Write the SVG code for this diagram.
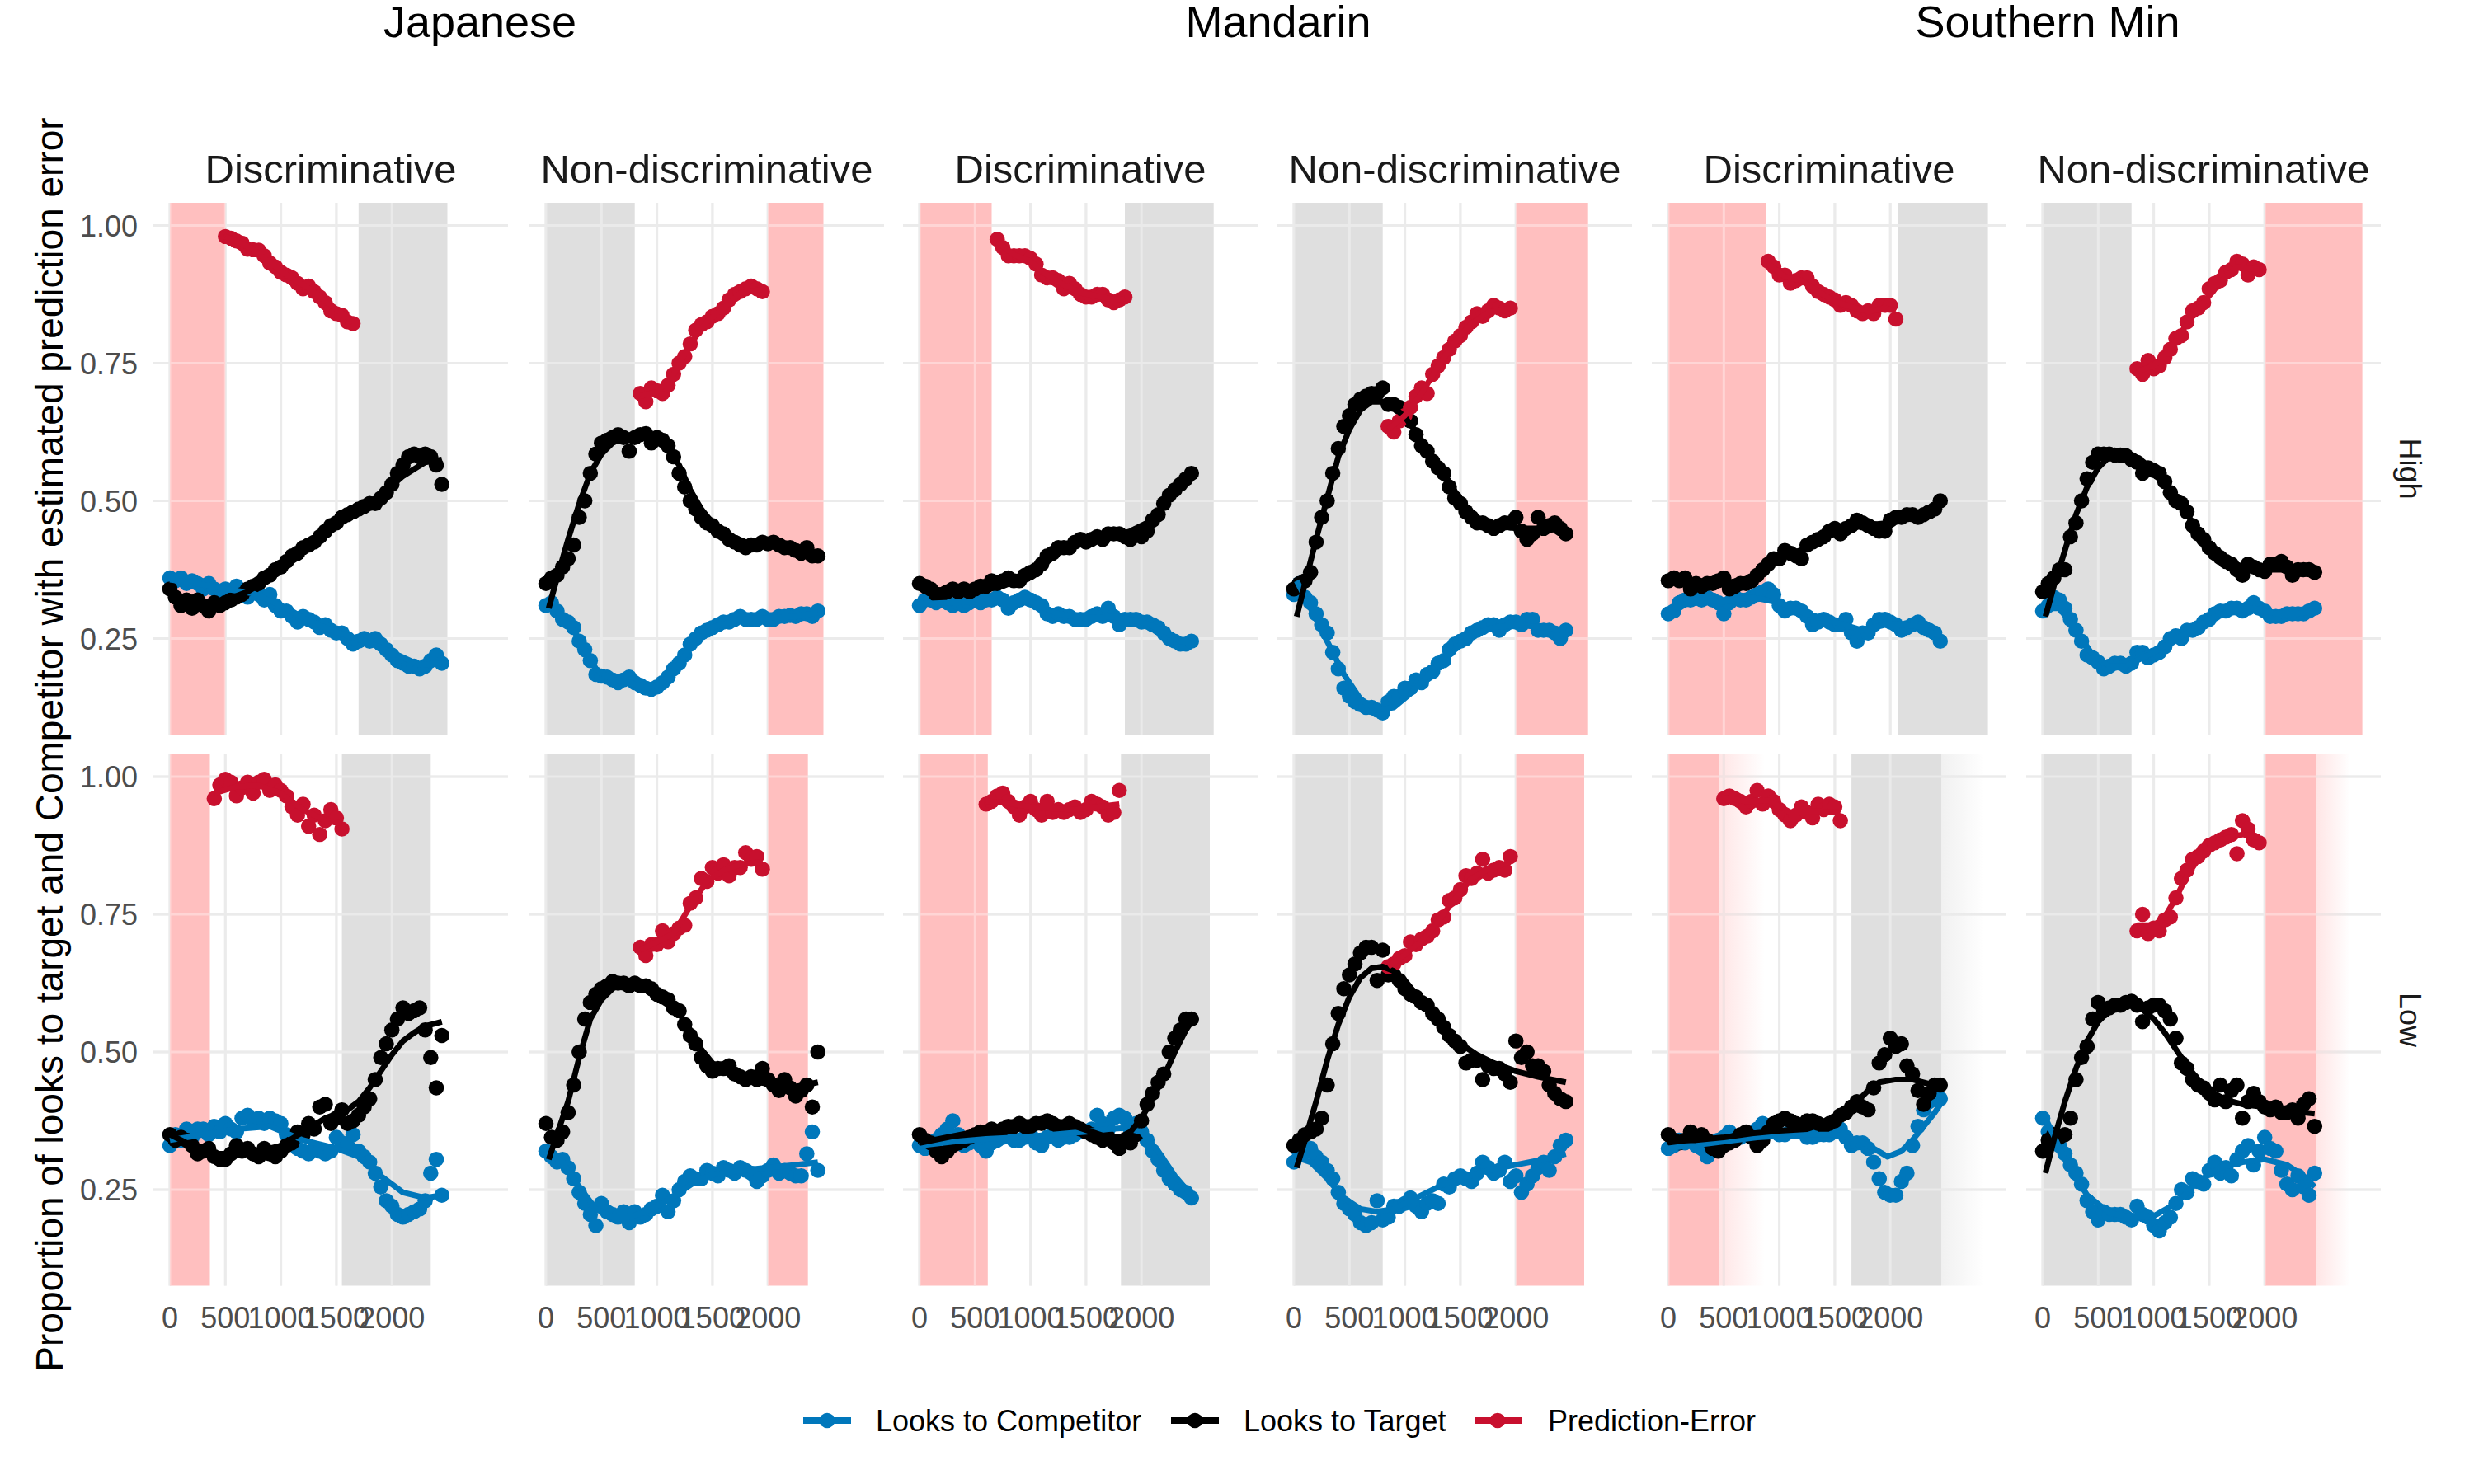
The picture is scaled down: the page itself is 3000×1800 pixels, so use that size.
<svg xmlns="http://www.w3.org/2000/svg" xmlns:xlink="http://www.w3.org/1999/xlink" width="3000" height="1800" viewBox="0 0 3000 1800">
<style>
text{font-family:"Liberation Sans",Arial,sans-serif}
.lang{font-size:54px;fill:#000;text-anchor:middle}
.strip{font-size:49px;fill:#1a1a1a;text-anchor:middle}
.ytk{font-size:36px;fill:#4d4d4d;text-anchor:end}
.xtk{font-size:36px;fill:#4d4d4d;text-anchor:middle}
.ttl{font-size:46px;fill:#000;text-anchor:middle}
.row{font-size:36px;fill:#1a1a1a;text-anchor:middle}
.leg{font-size:36px;fill:#000}
.gb{stroke:#e0e0e0;stroke-width:3;fill:none}
.gt{stroke:#fff;stroke-opacity:.35;stroke-width:3;fill:none}
.pk{fill:#ffbfbf}
.gy{fill:#dfdfdf}
.pB{fill:none;stroke:none;marker-start:url(#mB);marker-mid:url(#mB);marker-end:url(#mB)}
.pK{fill:none;stroke:none;marker-start:url(#mK);marker-mid:url(#mK);marker-end:url(#mK)}
.pR{fill:none;stroke:none;marker-start:url(#mR);marker-mid:url(#mR);marker-end:url(#mR)}
.ln{fill:none;stroke-width:7px;vector-effect:non-scaling-stroke;stroke-linejoin:round}
.lB{stroke:#0077bb}.lK{stroke:#000}.lR{stroke:#c8102e}
</style>
<defs>
<marker id="mB" markerUnits="userSpaceOnUse" markerWidth="3" markerHeight="3" viewBox="-1.5 -1.5 3 3" refX="0" refY="0" overflow="visible"><circle r="1.38" fill="#0077bb"/></marker>
<marker id="mK" markerUnits="userSpaceOnUse" markerWidth="3" markerHeight="3" viewBox="-1.5 -1.5 3 3" refX="0" refY="0" overflow="visible"><circle r="1.38" fill="#000"/></marker>
<marker id="mR" markerUnits="userSpaceOnUse" markerWidth="3" markerHeight="3" viewBox="-1.5 -1.5 3 3" refX="0" refY="0" overflow="visible"><circle r="1.38" fill="#c8102e"/></marker>
<path id="grid" d="M-20 0H410M-20 167H410M-20 334H410M-20 501H410M0 -27.5V617.5M67.3 -27.5V617.5M134.6 -27.5V617.5M201.9 -27.5V617.5M269.2 -27.5V617.5"/>
<linearGradient id="fadePk"><stop offset="0" stop-color="#ffbfbf" stop-opacity=".4"/><stop offset="1" stop-color="#ffbfbf" stop-opacity="0"/></linearGradient>
<linearGradient id="fadeGy"><stop offset="0" stop-color="#dfdfdf" stop-opacity=".45"/><stop offset="1" stop-color="#dfdfdf" stop-opacity="0"/></linearGradient>
</defs>
<rect width="3000" height="1800" fill="#fff"/>

<g id="titles">
<text class="lang" x="582" y="45">Japanese</text>
<text class="lang" x="1550" y="45">Mandarin</text>
<text class="lang" x="2483" y="45">Southern Min</text>
<text class="strip" x="401" y="222">Discriminative</text>
<text class="strip" x="857" y="222">Non-discriminative</text>
<text class="strip" x="1310" y="222">Discriminative</text>
<text class="strip" x="1764" y="222">Non-discriminative</text>
<text class="strip" x="2218" y="222">Discriminative</text>
<text class="strip" x="2672" y="222">Non-discriminative</text>
<text class="row" transform="translate(2923,568.5) rotate(90)" x="0" y="13">High</text>
<text class="row" transform="translate(2923,1237) rotate(90)" x="0" y="13">Low</text>
<text class="ttl" transform="translate(76,903) rotate(-90)" x="0" y="0">Proportion of looks to target and Competitor with estimated prediction error</text>
</g>

<g id="y-axis">
<text class="ytk" x="167" y="286.5">1.00</text><text class="ytk" x="167" y="453.5">0.75</text><text class="ytk" x="167" y="620.5">0.50</text><text class="ytk" x="167" y="787.5">0.25</text>
<text class="ytk" x="167" y="955">1.00</text><text class="ytk" x="167" y="1122">0.75</text><text class="ytk" x="167" y="1289">0.50</text><text class="ytk" x="167" y="1456">0.25</text>
</g>

<g id="x-axis">
<g transform="translate(206,1611)"><text class="xtk" x="0">0</text><text class="xtk" x="67.3">500</text><text class="xtk" x="134.6">1000</text><text class="xtk" x="201.9">1500</text><text class="xtk" x="269.2">2000</text></g>
<g transform="translate(662,1611)"><text class="xtk" x="0">0</text><text class="xtk" x="67.3">500</text><text class="xtk" x="134.6">1000</text><text class="xtk" x="201.9">1500</text><text class="xtk" x="269.2">2000</text></g>
<g transform="translate(1115,1611)"><text class="xtk" x="0">0</text><text class="xtk" x="67.3">500</text><text class="xtk" x="134.6">1000</text><text class="xtk" x="201.9">1500</text><text class="xtk" x="269.2">2000</text></g>
<g transform="translate(1569,1611)"><text class="xtk" x="0">0</text><text class="xtk" x="67.3">500</text><text class="xtk" x="134.6">1000</text><text class="xtk" x="201.9">1500</text><text class="xtk" x="269.2">2000</text></g>
<g transform="translate(2023,1611)"><text class="xtk" x="0">0</text><text class="xtk" x="67.3">500</text><text class="xtk" x="134.6">1000</text><text class="xtk" x="201.9">1500</text><text class="xtk" x="269.2">2000</text></g>
<g transform="translate(2477,1611)"><text class="xtk" x="0">0</text><text class="xtk" x="67.3">500</text><text class="xtk" x="134.6">1000</text><text class="xtk" x="201.9">1500</text><text class="xtk" x="269.2">2000</text></g>
</g>

<!-- Japanese Discriminative High -->
<g id="jp-disc-high" transform="translate(206,273.5)">
<use xlink:href="#grid" class="gb"/>
<rect class="pk" x="0" y="-27.5" width="67.3" height="645"/>
<rect class="gy" x="228.8" y="-27.5" width="107.7" height="645"/>
<use xlink:href="#grid" class="gt"/>
<g transform="scale(6.73,6.68)">
<polyline class="pB" points="0,64 1,64.5 2,64 3,65 4,64.5 5,65 6,66 7,65 8,66 9,67 10,66 11,67 12,65.5 13,67 14,67.5 15,66.5 16,67 17,68 18,67 19,69 20,70 21,70 22,71 23,72 24,71 25,71.5 26,72 27,73 28,72.5 29,73.5 30,74 31,74 32,75 33,76 34,75.5 35,75 36,75.5 37,75 38,76 39,77 40,78 41,79 42,79.5 43,80 44,80 45,80.5 46,80 47,79 48,78 49,79.5"/>
<polyline class="pK" points="0,66 1,67.5 2,69 3,68 4,69.5 5,68 6,69 7,70 8,68.5 9,69 10,68.5 11,68 12,67.5 13,67 14,66 15,65.5 16,65 17,64 18,63.5 19,62.5 20,62 21,61 22,60 23,59.5 24,58.5 25,58 26,57.5 27,56.5 28,55.5 29,54.5 30,54 31,53 32,52.5 33,52 34,51.5 35,51 36,50.5 37,50.5 38,49.5 39,48.5 40,47 41,45 42,43.5 43,42 44,41.5 45,42 46,41.5 47,42 48,43.5 49,47"/>
<polyline class="pR" points="10,2 11,2.3 12,2.8 13,3.2 14,4.3 15,4.4 16,4.5 17,5.5 18,6.8 19,7.5 20,8.5 21,9 22,9.5 23,10.5 24,11.5 25,11 26,12 27,13 28,14 29,15.5 30,16 31,16.3 32,17.5 33,17.8"/>
<polyline class="ln lB" points="0,64.3 5,65 10,66 15,66.8 20,69 25,71.8 30,73.8 35,75.4 40,77.5 45,79.8 49,79.5"/>
<polyline class="ln lK" points="0,66.5 3,68 6,68.5 10,68 14,66.5 18,64 22,60.5 26,57.5 30,54 34,51.5 38,49 42,45.5 46,43 49,42.5"/>
<polyline class="ln lR" points="10,2 15,4.3 20,8.3 25,11.4 30,15.2 33,17.5"/>
</g>
</g>

<!-- Japanese Discriminative Low -->
<g id="jp-disc-low" transform="translate(206,942)">
<use xlink:href="#grid" class="gb"/>
<rect class="pk" x="0" y="-27.5" width="48.5" height="645"/>
<rect class="gy" x="208.6" y="-27.5" width="107.7" height="645"/>
<use xlink:href="#grid" class="gt"/>
<g transform="scale(6.73,6.68)">
<polyline class="pB" points="0,67 1,65 2,66 3,64 4,65.5 5,64 6,64 7,65 8,63.5 9,64.5 10,63 11,64 12,64.5 13,62 14,61.5 15,62.5 16,62 17,63 18,62 19,62.5 20,63 21,65 22,66 23,67.5 24,68 25,68.5 26,67.5 27,68 28,68.5 29,68 30,65.5 31,66.5 32,67 33,65 34,68 35,69 36,70 37,72 38,74.5 39,77 40,78 41,79.5 42,80 43,79.5 44,79 45,78.5 46,77 47,72 48,69.5 49,76"/>
<polyline class="pK" points="0,65 1,66 2,65.5 3,66 4,67 5,68.5 6,68 7,67.5 8,69 9,69.5 10,69.5 11,68.5 12,67 13,68 14,67.5 15,68.5 16,69 17,67.5 18,68.5 19,69 20,68 21,67 22,66.5 23,64.5 24,65 25,63 26,64 27,60 28,59.5 29,63 30,62 31,60.5 32,63 33,62.5 34,61.5 35,60 36,58.5 37,55 38,51 39,48.5 40,46 41,44 42,42 43,43 44,42.5 45,42 46,46 47,51 48,56.5 49,47"/>
<polyline class="pR" points="8,4 9,1.5 10,0.5 11,1 12,3.5 13,2 14,1 15,3 16,1 17,0.5 18,2.5 19,1.5 20,2.5 21,3.5 22,5.5 23,7 24,5 25,9 26,7 27,10.5 28,8 29,6 30,7.5 31,9.5"/>
<polyline class="ln lB" points="0,66 6,65 12,64 18,63.5 24,66 30,67.5 34,69 38,72.5 42,75.5 46,76.5 49,76"/>
<polyline class="ln lK" points="0,65 4,67 8,68.5 12,68.5 16,68 20,67 24,64.5 28,62 32,60.5 34,59 36,56.5 38,53.5 40,50.5 42,48 44,46.5 46,45.3 49,44.5"/>
<polyline class="ln lR" points="8,3 12,1.8 16,1.6 20,3 24,6 28,8 31,8.5"/>
</g>
</g>

<!-- Japanese Non-discriminative High -->
<g id="jp-nondisc-high" transform="translate(662,273.5)">
<use xlink:href="#grid" class="gb"/>
<rect class="gy" x="0" y="-27.5" width="107.7" height="645"/>
<rect class="pk" x="269.2" y="-27.5" width="67.3" height="645"/>
<use xlink:href="#grid" class="gt"/>
<g transform="scale(6.73,6.68)">
<polyline class="pB" points="0,69 1,68.5 2,70 3,71.5 4,72 5,73 6,75.5 7,77 8,79 9,81.5 10,81.8 11,82 12,82.5 13,83 14,82.5 15,82 16,83 17,83.5 18,84 19,84.2 20,83.8 21,83 22,82 23,80.5 24,79.5 25,78 26,76 27,75 28,74 29,73.5 30,73 31,72.5 32,72 33,72 34,71.5 35,71 36,71.5 37,71.5 38,71.5 39,71 40,71.5 41,71.5 42,71 43,71 44,70.8 45,71 46,70.5 47,70.5 48,71 49,70"/>
<polyline class="pK" points="0,65 1,64 2,63.5 3,62 4,60.5 5,58 6,53 7,50 8,45 9,41.5 10,39.5 11,39 12,38.5 13,38 14,38.5 15,41 16,38.5 17,38 18,37.8 19,39.5 20,38.5 21,39 22,40 23,42 24,45 25,47.5 26,50 27,51.5 28,53 29,54 30,54.5 31,55.5 32,56 33,57 34,57.5 35,58 36,58.5 37,58 38,58 39,57.5 40,57.8 41,57.5 42,58 43,58.5 44,58.5 45,59 46,59.5 47,58.5 48,60 49,60"/>
<polyline class="pR" points="17,30.5 18,32 19,29.5 20,30 21,30.5 22,29 23,27 24,25 25,23.8 26,21.5 27,19 28,18 29,17.5 30,16.5 31,16 32,15 33,13.5 34,12.5 35,12 36,11.5 37,11 38,11.5 39,12"/>
<polyline class="ln lB" points="0,68.5 3,71 6,75 9,80.5 12,82.5 15,83 18,84 21,83 24,79.5 27,75.5 30,73 35,71.5 40,71.3 45,71 49,70.3"/>
<polyline class="ln lK" points="0.5,69.5 2,64 4,57 6,50.5 8,45 10,41.5 12,39.5 14,38.5 16,38.2 18,38.3 20,39 22,40.5 24,43.5 26,48 28,51.5 30,54 33,56.3 36,57.5 40,58 44,58.5 49,59.5"/>
<polyline class="ln lR" points="17,31 20,30.2 23,27 26,21.5 29,17.5 32,15 35,12.3 39,11.6"/>
</g>
</g>

<!-- Japanese Non-discriminative Low -->
<g id="jp-nondisc-low" transform="translate(662,942)">
<use xlink:href="#grid" class="gb"/>
<rect class="gy" x="0" y="-27.5" width="107.7" height="645"/>
<rect class="pk" x="269.2" y="-27.5" width="48.5" height="645"/>
<use xlink:href="#grid" class="gt"/>
<g transform="scale(6.73,6.68)">
<polyline class="pB" points="0,68 1,69 2,70 3,69.5 4,71 5,73 6,75.5 7,77.5 8,79.5 9,81.5 10,77.5 11,79 12,79.5 13,80 14,79 15,81 16,79 17,80 18,79.5 19,78.5 20,78 21,76 22,79 23,77 24,75 25,73.5 26,72.5 27,73 28,73 29,71.5 30,72 31,72.5 32,71 33,71.5 34,72 35,71 36,71.5 37,72 38,73.5 39,72.5 40,71.5 41,70.5 42,72 43,71.5 44,72 45,72.5 46,72.5 47,68.5 48,64.5 49,71.5"/>
<polyline class="pK" points="0,63 1,65.5 2,66 3,64.5 4,61 5,56 6,50 7,44 8,41 9,39.5 10,38.5 11,38 12,37.2 13,37.5 14,37.5 15,38 16,37.5 17,38 18,38 19,38.5 20,39.5 21,40 22,40.5 23,42 24,42.5 25,45 26,47 27,48.5 28,51 29,52.5 30,53.5 31,53 32,53 33,52.5 34,54 35,54.5 36,55 37,54.5 38,55 39,53 40,55 41,56 42,57 43,55 44,56.5 45,58 46,57 47,56 48,60 49,50"/>
<polyline class="pR" points="17,31 18,32.5 19,30.5 20,30.5 21,28 22,30 23,28.5 24,27.5 25,27 26,23 27,22 28,18.5 29,19 30,16.5 31,17.5 32,16 33,18 34,16.5 35,16.5 36,13.8 37,15 38,14.5 39,16.8"/>
<polyline class="ln lB" points="0,68 3,70 6,74.5 9,78.5 12,80 15,80 18,79 21,77.5 24,75.5 27,73.5 30,72.3 35,71.5 40,71 45,70.5 49,70"/>
<polyline class="ln lK" points="0.5,69.5 2,65 4,59 6,51 8,44 10,40.5 12,38.5 14,37.5 16,37.5 18,38 20,39 22,40.5 24,43 26,46 28,49.5 30,52 33,54 36,55 40,55.8 44,56.5 49,55.5"/>
<polyline class="ln lR" points="17,31.5 20,30 23,28.5 26,23.5 29,19 32,17 35,16 39,15.5"/>
</g>
</g>

<!-- Mandarin Discriminative High -->
<g id="md-disc-high" transform="translate(1115,273.5)">
<use xlink:href="#grid" class="gb"/>
<rect class="pk" x="0" y="-27.5" width="87.5" height="645"/>
<rect class="gy" x="249" y="-27.5" width="107.7" height="645"/>
<use xlink:href="#grid" class="gt"/>
<g transform="scale(6.73,6.68)">
<polyline class="pB" points="0,69 1,68 2,68 3,68.5 4,68 5,68.5 6,69 7,68.5 8,69 9,68.5 10,68 11,68.5 12,68 13,68 14,67.5 15,68 16,69.5 17,68.5 18,68 19,67.5 20,68 21,68.5 22,69 23,70.5 24,71 25,70.5 26,71 27,71 28,71.5 29,71.5 30,71.5 31,71 32,70.5 33,71 34,69.5 35,71 36,72.5 37,71.5 38,71.5 39,71.5 40,72 41,72 42,72.5 43,73 44,74 45,75 46,75.5 47,76 48,76 49,75.5"/>
<polyline class="pK" points="0,65 1,65.5 2,66 3,67 4,67 5,66.5 6,66 7,66.5 8,66 9,66.5 10,66 11,65.5 12,65.5 13,64.5 14,65 15,64.5 16,64 17,64.5 18,64.5 19,63.5 20,63 21,62.5 22,61.5 23,60 24,59.5 25,58.5 26,58.5 27,58.5 28,57.5 29,57 30,57.5 31,57 32,56.5 33,57 34,56 35,56 36,56 37,56.5 38,57 39,56 40,56.5 41,55.5 42,53.5 43,52.5 44,50.5 45,49 46,48 47,47 48,46 49,45"/>
<polyline class="pR" points="14,2.5 15,4 16,5.5 17,5.5 18,5.5 19,5.5 20,6 21,7 22,9 23,9.5 24,9.5 25,10 26,11.5 27,10.5 28,11.5 29,12.5 30,13 31,13 32,12.5 33,12.5 34,13.5 35,14 36,13.5 37,13"/>
<polyline class="ln lB" points="0,68.7 10,68.3 20,68.3 25,70.5 30,71.3 35,71 40,72 44,73.5 47,75.5 49,75.8"/>
<polyline class="ln lK" points="0,65.5 5,66.5 10,66.5 15,65.5 20,63.5 25,59.5 30,57.5 35,56.5 38,55.5 41,54 44,51 47,47.5 49,45.5"/>
<polyline class="ln lR" points="14,3 17,5.3 20,6.5 23,9 26,10.8 29,12.2 32,12.8 35,13.5 37,13.3"/>
</g>
</g>

<!-- Mandarin Discriminative Low -->
<g id="md-disc-low" transform="translate(1115,942)">
<use xlink:href="#grid" class="gb"/>
<rect class="pk" x="0" y="-27.5" width="82.8" height="645"/>
<rect class="gy" x="244.3" y="-27.5" width="107.7" height="645"/>
<use xlink:href="#grid" class="gt"/>
<g transform="scale(6.73,6.68)">
<polyline class="pB" points="0,67 1,67.5 2,66.5 3,66 4,65 5,64 6,62.5 7,65 8,67 9,66.5 10,66 11,67 12,68 13,66.5 14,66 15,65.5 16,65 17,66 18,66 19,65.5 20,65 21,66.5 22,67 23,65.5 24,65 25,66 26,65.5 27,65.5 28,65 29,64.5 30,64.5 31,64 32,61.5 33,63 34,64 35,62 36,61.5 37,62 38,64 39,63 40,64.5 41,66 42,68 43,69.5 44,71.5 45,73 46,74 47,75 48,75.5 49,76.5"/>
<polyline class="pK" points="0,65 1,66 2,66.5 3,68 4,69 5,68 6,67 7,66.5 8,66 9,65.5 10,65 11,64.5 12,64.5 13,64 14,64.5 15,64 16,63.5 17,63.5 18,63 19,63.5 20,63.5 21,63 22,63 23,62.5 24,63 25,63.5 26,63.5 27,63 28,63.5 29,64 30,64.5 31,65 32,65.5 33,66 34,65.5 35,66.5 36,67.5 37,66 38,66.5 39,65 40,62.5 41,59.5 42,57.5 43,55.5 44,54 45,50 46,47.5 47,46 48,44 49,44"/>
<polyline class="pR" points="12,5 13,4.5 14,3.5 15,3 16,4.5 17,5.5 18,7 19,5.5 20,4.5 21,6 22,7 23,4.5 24,6.5 25,6 26,6.5 27,6 28,5.5 29,6.5 30,6 31,4.5 32,5 33,5.5 34,7 35,6.5 36,2.5"/>
<polyline class="ln lB" points="0,67 6,66.3 12,65.8 18,65.5 24,65 30,64.5 34,64 37,63.8 40,64.5 43,68 46,72.5 49,76"/>
<polyline class="ln lK" points="0,66.5 5,65.5 10,64.5 15,63.5 20,63 25,62.7 28,63.5 31,64.5 34,65.5 36,65.5 38,64.5 40,62 42,58.5 44,54.5 46,50 48,46 49,44.5"/>
<polyline class="ln lR" points="12,4.5 16,4.8 20,5.5 24,5.8 28,6 32,5.5 36,5"/>
</g>
</g>

<!-- Mandarin Non-discriminative High -->
<g id="md-nondisc-high" transform="translate(1569,273.5)">
<use xlink:href="#grid" class="gb"/>
<rect class="gy" x="0" y="-27.5" width="107.7" height="645"/>
<rect class="pk" x="269.2" y="-27.5" width="87.5" height="645"/>
<use xlink:href="#grid" class="gt"/>
<g transform="scale(6.73,6.68)">
<polyline class="pB" points="0,67 1,65 2,67.5 3,68.5 4,70.5 5,72.5 6,74 7,77.5 8,80.5 9,84 10,85.5 11,86.5 12,87 13,87.5 14,87.5 15,88 16,88.5 17,86.5 18,85.5 19,85.5 20,84 21,84 22,82.5 23,83 24,81.5 25,81 26,79.5 27,79 28,77 29,76 30,75.5 31,75 32,74 33,73.5 34,73 35,72.5 36,72.5 37,73.5 38,72.5 39,72 40,72 41,72.5 42,71.5 43,71.5 44,73.5 45,73.5 46,73.5 47,74 48,75 49,73.5"/>
<polyline class="pK" points="0,66 1,65 2,64.5 3,63 4,57.5 5,53 6,50 7,45 8,40.5 9,36.5 10,34.5 11,32.5 12,31.5 13,31 14,30.5 15,30.5 16,29.5 17,32.5 18,32.5 19,33 20,34 21,35.5 22,38 23,40 24,41 25,42.8 26,44 27,45 28,47.5 29,49.5 30,50.5 31,52 32,53 33,54 34,54 35,54.5 36,55 37,54.5 38,54 39,54 40,53 41,55.5 42,57 43,56 44,53 45,55 46,54.5 47,54 48,55 49,56"/>
<polyline class="pR" points="17,36.5 18,37.5 19,35.5 20,34.5 21,33 22,31 23,29.5 24,30.5 25,27 26,25.5 27,24 28,22.5 29,21 30,20 31,18.5 32,17.5 33,16 34,16.5 35,15.5 36,14.5 37,15 38,15.5 39,15"/>
<polyline class="ln lB" points="0.5,64.5 3,69.5 6,75.5 9,81.5 12,86 15,88 18,87.5 21,85 24,82 27,79 30,76 33,74 36,73 40,72.5 45,73 49,73.5"/>
<polyline class="ln lK" points="0.5,71 2,65 4,57 6,49.5 8,42 10,37 12,33.5 14,32 16,32 18,33 20,34.8 22,37.5 24,40.5 26,43.5 28,46.5 30,50 33,53 36,54.5 40,55 45,55 49,55.5"/>
<polyline class="ln lR" points="17,37 20,34.5 23,30.5 26,25.5 29,21.2 32,17.8 35,15.8 39,15"/>
</g>
</g>

<!-- Mandarin Non-discriminative Low -->
<g id="md-nondisc-low" transform="translate(1569,942)">
<use xlink:href="#grid" class="gb"/>
<rect class="gy" x="0" y="-27.5" width="107.7" height="645"/>
<rect class="pk" x="269.2" y="-27.5" width="82.8" height="645"/>
<use xlink:href="#grid" class="gt"/>
<g transform="scale(6.73,6.68)">
<polyline class="pB" points="0,70 1,68.5 2,68 3,67.5 4,69 5,70 6,71.5 7,73 8,75.5 9,77.5 10,78.5 11,79.5 12,81 13,81.5 14,81 15,77 16,80.5 17,80 18,78 19,78 20,77.5 21,76.5 22,78 23,79 24,77.5 25,77 26,77.5 27,74 28,74.5 29,73 30,72.5 31,73 32,73.5 33,72 34,70 35,71 36,72 37,71.5 38,70 39,73.5 40,72.5 41,75.5 42,74 43,72.5 44,71 45,70 46,71.5 47,69 48,67 49,66"/>
<polyline class="pK" points="0,67 1,66 2,65 3,64.5 4,64 5,62 6,56 7,48.5 8,43 9,38.5 10,36 11,34 12,32 13,31 14,31 15,37 16,31.5 17,36 18,36 19,37 20,38.5 21,39.5 22,40 23,41 24,41.5 25,43 26,44 27,45.5 28,47 29,48 30,49 31,52 32,51.5 33,51.5 34,55 35,52.5 36,53 37,53 38,54 39,55.5 40,48 41,51 42,50 43,52.5 44,52.5 45,53.5 46,56 47,57.5 48,58.5 49,59"/>
<polyline class="pR" points="17,34.5 18,34 19,33 20,32.5 21,30 22,30.5 23,29.5 24,29 25,28 26,26 27,25.5 28,22.5 29,22 30,20.5 31,18 32,18.5 33,17.5 34,15 35,17.5 36,17 37,16.5 38,17 39,14.5"/>
<polyline class="ln lB" points="0,69 3,70 6,73 9,76.5 12,78.5 15,79 18,78.5 21,77 24,75.5 27,74 30,73 35,71.5 40,70.5 45,69.5 49,68.5"/>
<polyline class="ln lK" points="0.5,71 2,66 4,59 6,51.5 8,45 10,40 12,36.5 14,34.8 16,34.5 18,35.3 20,37 22,39.5 24,42 26,44.5 28,46.5 30,48.5 33,50.5 36,52 40,53.5 44,54.5 49,55.5"/>
<polyline class="ln lR" points="17,34.5 20,32.3 23,29.8 26,26.3 29,22.2 32,18.5 35,16.8 39,15.5"/>
</g>
</g>

<!-- Southern Min Discriminative High -->
<g id="sm-disc-high" transform="translate(2023,273.5)">
<use xlink:href="#grid" class="gb"/>
<rect class="pk" x="0" y="-27.5" width="118.4" height="645"/>
<rect class="gy" x="278.6" y="-27.5" width="109" height="645"/>
<use xlink:href="#grid" class="gt"/>
<g transform="scale(6.73,6.68)">
<polyline class="pB" points="0,70.5 1,70 2,68.5 3,68 4,68 5,67.5 6,68 7,67.5 8,68 9,68.5 10,70.5 11,68.5 12,67.5 13,68 14,68 15,67.5 16,67 17,66.5 18,66 19,67 20,69 21,70 22,69.5 23,69.5 24,70 25,71 26,72.5 27,72 28,71.5 29,72 30,72.5 31,72.5 32,71.5 33,74 34,75.5 35,74 36,74 37,72.5 38,71.5 39,71.5 40,72 41,72.5 42,73.5 43,73 44,72.5 45,72 46,73 47,73.5 48,74 49,75.5"/>
<polyline class="pK" points="0,64.5 1,64 2,64.5 3,64 4,66 5,65 6,65.5 7,65 8,65 9,64.5 10,64 11,66 12,65.5 13,65 14,65 15,64.5 16,63.5 17,62.5 18,61.5 19,60.5 20,60.5 21,59 22,59.5 23,60 24,60.5 25,58 26,57.5 27,57 28,56.5 29,55.5 30,55 31,56 32,55 33,54.5 34,53.5 35,54 36,54.5 37,55 38,55.5 39,55.5 40,53.5 41,53 42,53 43,52.5 44,52.5 45,53 46,52.5 47,52 48,51.5 49,50"/>
<polyline class="pR" points="18,6.5 19,7.5 20,9 21,9 22,10.5 23,10 24,9.5 25,9.5 26,11 27,12 28,12.5 29,13 30,13.5 31,14.5 32,14 33,14.5 34,15.5 35,16 36,15.5 37,16 38,14.5 39,14.5 40,14.5 41,17"/>
<polyline class="ln lB" points="0,70 5,68 10,68.3 15,67.5 20,68.5 25,70.5 30,72 35,73.5 40,72.3 45,72.8 49,74.5"/>
<polyline class="ln lK" points="0,64.5 5,65 10,65 15,64 20,60.5 25,58.5 30,55.8 35,54.5 40,54 45,52.8 49,51"/>
<polyline class="ln lR" points="18,7 21,9.3 24,10 27,12 30,13.8 33,14.8 36,15.6 39,15 41,15.5"/>
</g>
</g>

<!-- Southern Min Discriminative Low -->
<g id="sm-disc-low" transform="translate(2023,942)">
<use xlink:href="#grid" class="gb"/>
<rect class="pk" x="0" y="-27.5" width="61.9" height="645"/>
<rect x="61.9" y="-27.5" width="55" height="645" fill="url(#fadePk)"/>
<rect class="gy" x="222.1" y="-27.5" width="109" height="645"/>
<rect x="331.1" y="-27.5" width="52.5" height="645" fill="url(#fadeGy)"/>
<use xlink:href="#grid" class="gt"/>
<g transform="scale(6.73,6.68)">
<polyline class="pB" points="0,67.5 1,67 2,66 3,66.5 4,66 5,67 6,67.5 7,69 8,68 9,66 10,65.5 11,64.5 12,65.5 13,65.5 14,65 15,65.5 16,64 17,63 18,64 19,64.5 20,65 21,65 22,64.5 23,64.5 24,64.5 25,65.5 26,65.5 27,65 28,65 29,65 30,64.5 31,64 32,65.5 33,67 34,66.5 35,66.5 36,67.5 37,70 38,73 39,75.5 40,76 41,76 42,73.5 43,72 44,67 45,63.5 46,60.5 47,59 48,58.5 49,58.5"/>
<polyline class="pK" points="0,65 1,66 2,66.5 3,66 4,64.5 5,65.5 6,65 7,66 8,67.5 9,68 10,67 11,66.5 12,66 13,65 14,64.5 15,65.5 16,67 17,66 18,64.5 19,63 20,62.5 21,62 22,62.5 23,63 24,63.5 25,62.5 26,62.5 27,63 28,63.5 29,63 30,62.5 31,61.5 32,61 33,60 34,59 35,60 36,60.5 37,56.5 38,52 39,50.5 40,47.5 41,49 42,48.5 43,52.5 44,54 45,57 46,59.5 47,57.5 48,56 49,56"/>
<polyline class="pR" points="10,4 11,3.5 12,4 13,4.5 14,5.5 15,4.5 16,2.5 17,5 18,3.5 19,4.5 20,6 21,7 22,8 23,7 24,5.5 25,6.5 26,7.5 27,5 28,6 29,5 30,5.5 31,8"/>
<polyline class="ln lB" points="0,67.5 8,66.5 16,65.5 24,65 30,65 34,66 37,67.5 39.5,69 42,68 44,66 46,63.5 48,61 49,59.5"/>
<polyline class="ln lK" points="0,66 5,66 10,65.5 15,64.8 20,64.3 25,64 28,63 31,61.5 34,59 36,57 38,55.5 41,55 44,55 47,55.8 49,56.8"/>
<polyline class="ln lR" points="10,3.8 14,4.5 18,4.3 22,6.5 26,6.3 31,6.5"/>
</g>
</g>

<!-- Southern Min Non-discriminative High -->
<g id="sm-nondisc-high" transform="translate(2477,273.5)">
<use xlink:href="#grid" class="gb"/>
<rect class="gy" x="0" y="-27.5" width="107.7" height="645"/>
<rect class="pk" x="269.2" y="-27.5" width="118.4" height="645"/>
<use xlink:href="#grid" class="gt"/>
<g transform="scale(6.73,6.68)">
<polyline class="pB" points="0,70 1,69 2,67.5 3,68 4,69.5 5,71.5 6,73.5 7,75.5 8,78 9,78.5 10,79.3 11,80.5 12,80 13,79.5 14,79.5 15,80 16,79.5 17,77.5 18,77.5 19,78.5 20,78 21,77.5 22,76.5 23,75 24,74.5 25,75 26,73.5 27,73.5 28,73 29,72 30,71.5 31,70.5 32,70 33,70 34,69.5 35,69.5 36,70 37,69.5 38,68.5 39,69.5 40,70 41,71 42,71 43,71 44,70.5 45,70.5 46,70.5 47,70.5 48,70 49,69.5"/>
<polyline class="pK" points="0,66.5 1,65 2,64 3,62.5 4,62.5 5,56.5 6,54 7,50 8,46 9,43 10,41.5 11,41.5 12,41.5 13,41.7 14,41.7 15,41.8 16,42.5 17,43 18,45 19,44 20,44.5 21,45 22,46.5 23,48.5 24,50 25,50.5 26,52 27,54.5 28,56 29,57 30,58.5 31,59.5 32,60.3 33,61 34,61.5 35,62.5 36,63.5 37,61.5 38,62 39,62.5 40,62.8 41,61.5 42,61.5 43,61 44,62 45,63.5 46,62.5 47,62.5 48,62.5 49,63"/>
<polyline class="pR" points="17,26 18,27 19,24.5 20,26 21,25.5 22,24 23,22.5 24,20.5 25,20 26,17.5 27,15.5 28,15 29,14 30,11.5 31,10.5 32,10 33,8.5 34,8 35,6.5 36,7 37,9 38,7.5 39,8"/>
<polyline class="ln lB" points="0,69.5 3,69.5 6,73.5 9,78 12,80 15,80 18,78.5 21,77 24,75 27,73.5 30,71.5 34,70 38,69.5 42,70.5 46,70.5 49,70"/>
<polyline class="ln lK" points="0.5,71 2,65.5 4,59 6,52.5 8,47.5 10,44 12,42 14,41.3 16,41.6 18,42.8 20,44.5 22,46.8 24,49.5 26,52.5 28,55.3 30,57.8 32,59.8 34,61.2 37,62.3 40,62.5 45,62.5 49,62.8"/>
<polyline class="ln lR" points="17,26.5 20,25.5 23,22.5 26,17.8 29,14 32,10.3 35,7.5 37,7.8 39,8"/>
</g>
</g>

<!-- Southern Min Non-discriminative Low -->
<g id="sm-nondisc-low" transform="translate(2477,942)">
<use xlink:href="#grid" class="gb"/>
<rect class="gy" x="0" y="-27.5" width="107.7" height="645"/>
<rect class="pk" x="269.2" y="-27.5" width="62.6" height="645"/>
<rect x="331.8" y="-27.5" width="41" height="645" fill="url(#fadePk)"/>
<use xlink:href="#grid" class="gt"/>
<g transform="scale(6.73,6.68)">
<polyline class="pB" points="0,62 1,64.5 2,66.5 3,67 4,68.5 5,70.5 6,72 7,74 8,77 9,79 10,80.5 11,79 12,79.5 13,79.5 14,79.5 15,80 16,80.5 17,78 18,79.5 19,80 20,81.5 21,82.5 22,81 23,80 24,77.5 25,75 26,75.5 27,73 28,73.5 29,74 30,71.5 31,70 32,72 33,71 34,72.5 35,69.5 36,68 37,67 38,70.5 39,68 40,65.5 41,67.5 42,68 43,71.5 44,74 45,75 46,72.5 47,74.5 48,76 49,72"/>
<polyline class="pK" points="0,68 1,66 2,65 3,65.5 4,65 5,62 6,55 7,51 8,49 9,44 10,41 11,42.5 12,42 13,41.5 14,41.5 15,41 16,40.8 17,41.5 18,44.5 19,42 20,41.5 21,41.5 22,42.5 23,44 24,47.5 25,52 26,53 27,55 28,56 29,56.5 30,57.5 31,58.7 32,56 33,59 34,57 35,56 36,62 37,59 38,57.5 39,59 40,60 41,60.5 42,60 43,61 44,61 45,60.5 46,62 47,59.5 48,58.5 49,63.5"/>
<polyline class="pR" points="17,28 18,25 19,28.5 20,27.5 21,28 22,26 23,25.5 24,22 25,18.5 26,17 27,15 28,14.5 29,13.5 30,12.5 31,12 32,11.5 33,11 34,10.5 35,14 36,8 37,9.5 38,11.5 39,12"/>
<polyline class="ln lB" points="0.5,62 4,69.5 8,76 12,79.2 16,80 20,79.8 24,77.5 28,73.5 32,71 36,70 40,69.5 44,70.5 47,72.5 49,74.5"/>
<polyline class="ln lK" points="0.5,72 2,66 4,59 6,53 8,48 10,44.5 12,42.5 14,41.5 16,41.5 18,42.3 20,44 22,46.5 24,49.5 26,52.5 28,55 30,57 33,58.7 36,59.5 40,60 45,60.8 49,61.2"/>
<polyline class="ln lR" points="17,27 20,27 22,25.5 24,22 26,18 28,15 30,13 32,11.5 34,11 36,10.5 39,11"/>
</g>
</g>

<g id="legend">
<line x1="974" y1="1723" x2="1032" y2="1723" stroke="#0077bb" stroke-width="8"/><circle cx="1003" cy="1723" r="9.3" fill="#0077bb"/>
<text class="leg" x="1062" y="1736">Looks to Competitor</text>
<line x1="1420" y1="1723" x2="1478" y2="1723" stroke="#000" stroke-width="8"/><circle cx="1449" cy="1723" r="9.3" fill="#000"/>
<text class="leg" x="1508" y="1736">Looks to Target</text>
<line x1="1788" y1="1723" x2="1845" y2="1723" stroke="#c8102e" stroke-width="8"/><circle cx="1816" cy="1723" r="9.3" fill="#c8102e"/>
<text class="leg" x="1877" y="1736">Prediction-Error</text>
</g>
</svg>
